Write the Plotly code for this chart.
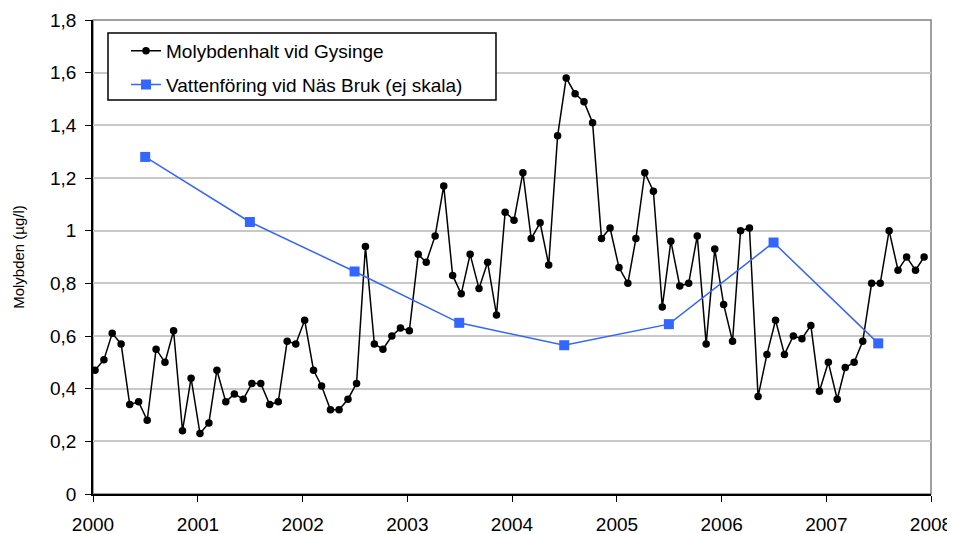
import plotly.graph_objects as go

years = list(range(2000, 2008))
mo_values = [
    0.47, 0.51, 0.61, 0.57, 0.34, 0.35, 0.28, 0.55, 0.50, 0.62, 0.24, 0.44,
    0.23, 0.27, 0.47, 0.35, 0.38, 0.36, 0.42, 0.42, 0.34, 0.35, 0.58, 0.57,
    0.66, 0.47, 0.41, 0.32, 0.32, 0.36, 0.42, 0.94, 0.57, 0.55, 0.60, 0.63,
    0.62, 0.91, 0.88, 0.98, 1.17, 0.83, 0.76, 0.91, 0.78, 0.88, 0.68, 1.07,
    1.04, 1.22, 0.97, 1.03, 0.87, 1.36, 1.58, 1.52, 1.49, 1.41, 0.97, 1.01,
    0.86, 0.80, 0.97, 1.22, 1.15, 0.71, 0.96, 0.79, 0.80, 0.98, 0.57, 0.93,
    0.72, 0.58, 1.00, 1.01, 0.37, 0.53, 0.66, 0.53, 0.60, 0.59, 0.64, 0.39,
    0.50, 0.36, 0.48, 0.50, 0.58, 0.80, 0.80, 1.00, 0.85, 0.90, 0.85, 0.90,
]
mo_dates = [f"{y}-{m:02d}-08" for y in years for m in range(1, 13)]

flow_dates = [f"{y}-07-01" for y in years]
flow_values = [1.28, 1.033, 0.845, 0.65, 0.565, 0.645, 0.955, 0.572]

x_tick_vals = [f"{y}-01-01" for y in range(2000, 2009)]
x_tick_text = [str(y) for y in range(2000, 2009)]

FONT = "Liberation Sans, Arial, sans-serif"

fig = go.Figure()
fig.add_trace(go.Scatter(
    x=mo_dates, y=mo_values, mode="lines+markers",
    name="Molybdenhalt vid Gysinge", legendgroup="a",
    line=dict(color="black", width=1.5),
    marker=dict(symbol="circle", size=7.5, color="black"),
))
fig.add_trace(go.Scatter(
    x=flow_dates, y=flow_values, mode="lines+markers",
    name="Vattenföring vid Näs Bruk (ej skala)", legendgroup="b",
    line=dict(color="#3366ff", width=1.5),
    marker=dict(symbol="square", size=10, color="#3366ff"),
))

fig.update_layout(
    width=947, height=526,
    margin=dict(l=85, r=24, t=12, b=40, autoexpand=False),
    paper_bgcolor="white", plot_bgcolor="white",
    separators=", ",
    font=dict(family=FONT, size=19, color="black"),
    showlegend=True,
    legend=dict(
        x=0.0394, y=0.975, xanchor="left", yanchor="top",
        bgcolor="rgba(0,0,0,0)", borderwidth=0,
        font=dict(family=FONT, size=19), itemwidth=30,
        traceorder="grouped", tracegroupgap=6,
    ),
    xaxis=dict(
        type="date", range=["2000-01-01", "2008-01-01"],
        tickmode="array", tickvals=x_tick_vals, ticktext=x_tick_text,
        showgrid=False, showline=True, linecolor="black", linewidth=1.5,
        ticks="outside", ticklen=6, tickcolor="black", automargin=False,
        tickfont=dict(family=FONT, size=19), zeroline=False, ticklabelstandoff=6,
    ),
    yaxis=dict(
        range=[0, 1.8], dtick=0.2, tick0=0, automargin=False,
        showgrid=True, gridcolor="#c8c8c8", gridwidth=1.5,
        showline=True, linecolor="black", linewidth=1.5,
        ticks="outside", ticklen=6, tickcolor="black",
        tickfont=dict(family=FONT, size=19), zeroline=False, ticklabelstandoff=5,
        title=dict(text="Molybden (µg/l)", font=dict(family=FONT, size=15), standoff=22),
    ),
    shapes=[
        dict(type="rect", xref="paper", yref="paper", x0=0, x1=1, y0=0, y1=1,
             line=dict(color="#808080", width=1.5), layer="below"),
        dict(type="rect", xref="paper", yref="paper",
             x0=0.0179, x1=0.4809, y0=0.8312, y1=0.9726,
             line=dict(color="black", width=1.5), fillcolor="white", layer="above"),
    ],
)

fig.write_html("out.html")
